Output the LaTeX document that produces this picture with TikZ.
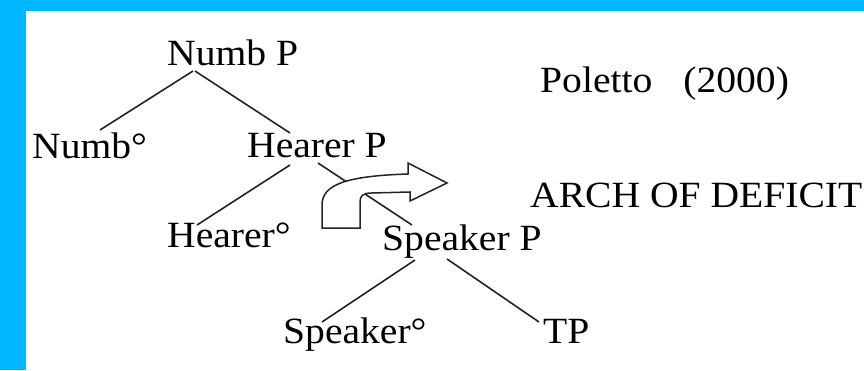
\documentclass[tikz,border=0pt]{standalone}
\usepackage{fontspec}
\setmainfont{Liberation Serif}[FakeStretch=1.07]
\usetikzlibrary{calc}
\definecolor{frameblue}{RGB}{0,182,255}
\definecolor{linegray}{RGB}{35,35,35}
\begin{document}
\begin{tikzpicture}[x=1pt,y=-1pt,
  lbl/.style={anchor=base west,inner sep=0pt,font=\fontsize{37}{40}\selectfont},
  branch/.style={draw=linegray,line width=1.6pt},
  turnarrow/.style={draw=linegray,line width=1.5pt,fill=white,line join=miter}
]
\fill[frameblue] (0,0) rectangle (864,370);
\fill[white] (26,11) rectangle (864,370);
\useasboundingbox (0,0) rectangle (864,370);

\node[lbl] (numbP) at (167,65) {Numb P};
\node[lbl] (numbH) at (32,158) {Numb°};
\node[lbl] (hearP) at (247,157) {Hearer P};
\node[lbl] (hearH) at (167,247) {Hearer°};
\node[lbl] (speakP) at (382,250) {Speaker P};
\node[lbl] (speakH) at (283,343) {Speaker°};
\node[lbl] (tp) at (543,343) {TP};
\node[lbl] (ref) at (540,92) {Poletto\hspace{31pt}(2000)};
\node[lbl] (arch) at (530,207) {ARCH OF DEFICIT};

\draw[branch] ($(numbP.base west)+(26,6)$) -- ($(numbH.base west)+(68,-28)$);
\draw[branch] ($(numbP.base west)+(28,6)$) -- ($(hearP.base west)+(43,-24)$);
\draw[branch] ($(hearP.base west)+(43,8)$) -- ($(hearH.base west)+(30,-22)$);
\draw[branch] ($(hearP.base west)+(71,6)$) -- ($(speakP.base west)+(30,-25)$);
\draw[branch] ($(speakP.base west)+(33,10)$) -- ($(speakH.base west)+(39,-21)$);
\draw[branch] ($(speakP.base west)+(65,9)$) -- ($(tp.base west)+(-4,-21)$);

\draw[turnarrow] (322,228) -- (322,205)
  .. controls (322,185) and (345,176) .. (408,174)
  -- (408,163) -- (447,183) -- (410,201) -- (410,192)
  -- (372,193) .. controls (362,193) and (360,196) .. (360,203)
  -- (360,228) -- cycle;
\end{tikzpicture}
\end{document}
